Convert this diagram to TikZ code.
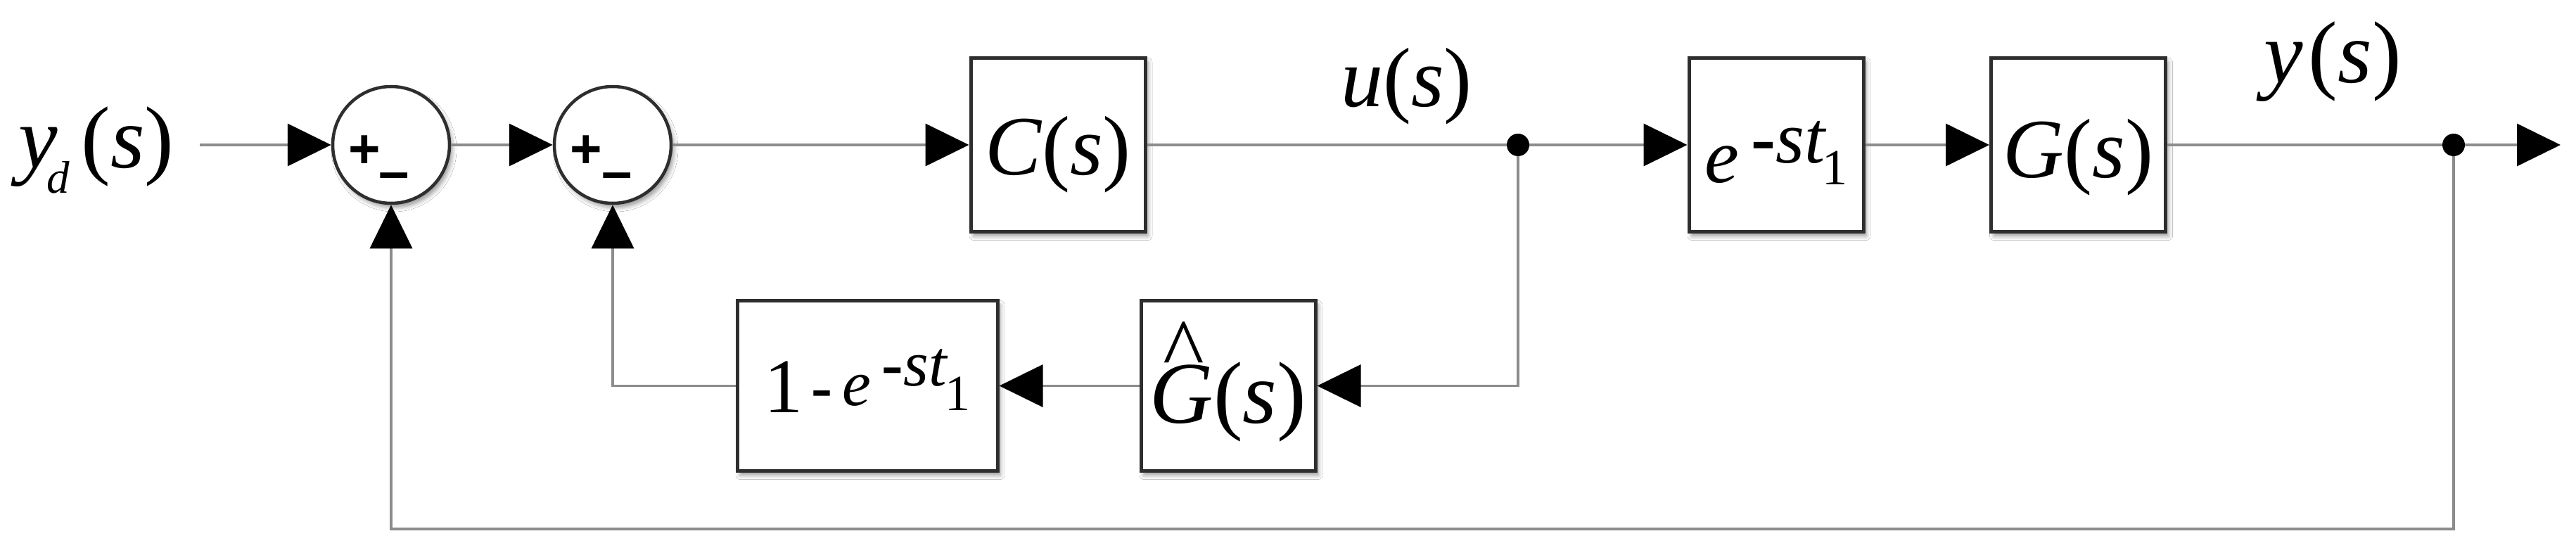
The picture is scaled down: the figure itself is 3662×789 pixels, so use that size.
\documentclass[tikz,border=0pt]{standalone}
\usepackage{fontspec}
\setmainfont{Liberation Serif}
\newfontfamily\sumfont{Liberation Sans}
\usetikzlibrary{arrows.meta,shadows.blur,calc}
\definecolor{linegray}{HTML}{8C8C8C}
\definecolor{boxgray}{HTML}{2E2E2E}
\begin{document}
\begin{tikzpicture}[x=1pt,y=-1pt,
  conn/.style={draw=linegray, line width=3.5pt},
  arr/.style={conn, -{Triangle[length=62pt,width=60pt,color=black]}},
  shd/.style={blur shadow={shadow xshift=4pt, shadow yshift=-6pt, shadow blur radius=6pt, shadow opacity=40}},
  blk/.style={draw=boxgray, line width=5pt, fill=white, inner sep=0pt, text depth=0pt, shd},
  sumn/.style={circle, draw=boxgray, line width=4.5pt, fill=white, minimum size=166pt, inner sep=0pt, shd},
  sgn/.style={font=\sumfont\bfseries\fontsize{78}{78}\selectfont, inner sep=0pt},
  dotn/.style={circle, fill=black, minimum size=32pt, inner sep=0pt},
  lbl/.style={inner sep=0pt, anchor=base west}
]
\fill[white] (0,0) rectangle (3662,789);
\useasboundingbox (0,0) rectangle (3662,789);

% summing junctions
\node[sumn] (s1) at (556,206) {};
\node[sgn] (s1p) at ($(s1.center)+(-38,10)$) {+};
\node[sgn] (s1m) at ($(s1.center)+(4,52)$) {–};
\node[sumn] (s2) at (871,206) {};
\node[sgn] (s2p) at ($(s2.center)+(-38,10)$) {+};
\node[sgn] (s2m) at ($(s2.center)+(6,52)$) {–};

% blocks
\node[blk, minimum width=248pt, minimum height=247pt, text height=84pt] (C) at (1504,206)
  {\fontsize{120}{130}\selectfont\textit{C}(\textit{s})};
\node[blk, minimum width=248pt, minimum height=247pt, text height=106pt] (E) at (2525,206)
  {\fontsize{110}{120}\selectfont\textit{e}\hspace{18pt}\raisebox{28pt}{\fontsize{105}{110}\selectfont\textbf{-}\textit{st}}\hspace{-6pt}\raisebox{-3pt}{\fontsize{72}{80}\selectfont 1}};
\node[blk, minimum width=248pt, minimum height=247pt, text height=92pt] (G) at (2954.5,206)
  {\fontsize{120}{130}\selectfont\textit{G}(\textit{s})};
\node[blk, minimum width=370pt, minimum height=242pt, text height=76pt] (F) at (1233,548.5)
  {\fontsize{110}{120}\selectfont 1\hspace{12pt}\raisebox{6pt}{\fontsize{90}{100}\selectfont\textbf{-}}\hspace{14pt}\raisebox{10pt}{\fontsize{92}{100}\selectfont\textit{e}}\hspace{16pt}\raisebox{38pt}{\fontsize{92}{100}\selectfont\textbf{-}\textit{st}}\hspace{-4pt}\raisebox{3pt}{\fontsize{72}{80}\selectfont 1}};
\node[blk, minimum width=248pt, minimum height=242pt, text height=106pt] (Gh) at (1746,548.5)
  {\fontsize{125}{130}\selectfont\makebox[0pt][l]{\hspace{19pt}\raisebox{62pt}{\textasciicircum}}\textit{G}(\textit{s})};

% branch points
\node[dotn] (u) at (2158,206) {};
\node[dotn] (yj) at (3488,206) {};
\coordinate (in) at (284,206);
\coordinate (out) at (3640,206);
\coordinate (fbr) at (3488,752);

% signal labels
\node[lbl] (yd) at (26,238) {\fontsize{125}{130}\selectfont\textit{y}\hspace{-15pt}\raisebox{-36pt}{\fontsize{65}{70}\selectfont\textit{d}}\hspace{16pt}(\textit{s})};
\node[lbl] (ul) at (1906,151) {\fontsize{120}{130}\selectfont\textit{u}(\textit{s})};
\node[lbl] (yl) at (3218,118) {\fontsize{125}{130}\selectfont\textit{y}\hspace{8pt}(\textit{s})};

% connectors
\draw[arr] (in) -- (s1.west);
\draw[arr] (s1.east) -- (s2.west);
\draw[arr] (s2.east) -- (C.west);
\draw[conn] (C.east) -- (u);
\draw[arr] (u) -- (E.west);
\draw[arr] (E.east) -- (G.west);
\draw[conn] (G.east) -- (yj);
\draw[arr] (yj) -- (out);
\draw[arr] (u) |- (Gh.east);
\draw[arr] (Gh.west) -- (F.east);
\draw[arr] (F.west) -| (s2.south);
\draw[arr] (yj) -- (fbr) -| (s1.south);
\end{tikzpicture}
\end{document}
